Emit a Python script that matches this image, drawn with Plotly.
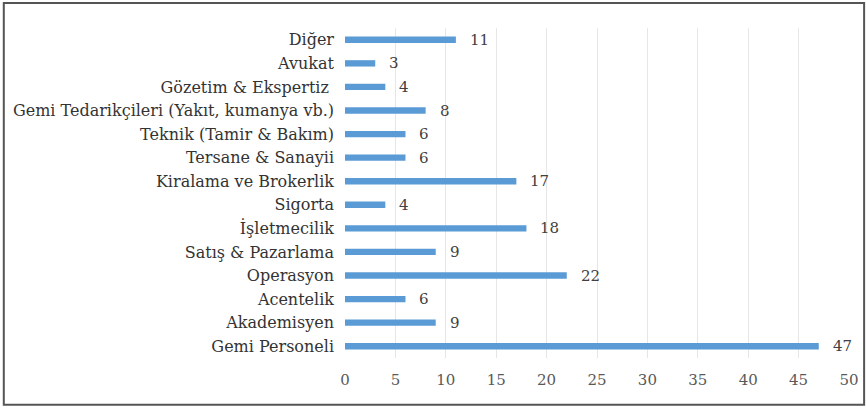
import plotly.graph_objects as go

categories = ["Gemi Personeli", "Akademisyen", "Acentelik", "Operasyon", "Satış & Pazarlama",
              "İşletmecilik", "Sigorta", "Kiralama ve Brokerlik", "Tersane & Sanayii",
              "Teknik (Tamir & Bakım)", "Gemi Tedarikçileri (Yakıt, kumanya vb.)",
              "Gözetim & Ekspertiz ", "Avukat", "Diğer"]
values = [47, 9, 6, 22, 9, 18, 4, 17, 6, 6, 8, 4, 3, 11]
tick_vals = [0, 5, 10, 15, 20, 25, 30, 35, 40, 45, 50]

FONT = "DejaVu Serif"

fig = go.Figure()
fig.add_trace(go.Bar(
    x=values, y=categories, orientation="h",
    marker=dict(color="#5B9BD5", line=dict(width=0)),
    width=0.27,
    hoverinfo="x+y",
))

for c, v in zip(categories, values):
    fig.add_annotation(x=v, y=c, text=str(v), showarrow=False, xanchor="left",
                       xshift=12, font=dict(family=FONT, size=15, color="#404040"))

fig.add_shape(type="rect", xref="paper", yref="paper",
              x0=-0.677, x1=1.03, y0=-0.142, y1=1.076,
              line=dict(color="#555555", width=2), fillcolor="rgba(0,0,0,0)")

fig.update_layout(
    width=866, height=408,
    margin=dict(l=345, r=17, t=28, b=50, autoexpand=False),
    paper_bgcolor="white", plot_bgcolor="white",
    showlegend=False,
    font=dict(family=FONT, size=15, color="#333333"),
    xaxis=dict(range=[0, 50], tickvals=tick_vals, showgrid=True, gridcolor="#E6E6E6",
               gridwidth=1, zeroline=False, showline=False, automargin=False,
               tickfont=dict(family=FONT, size=15, color="#595959"), ticks="", ticklen=0,
               ticklabelstandoff=11),
    yaxis=dict(categoryorder="array", categoryarray=categories, showgrid=False,
               showline=False, ticks="", automargin=False,
               tickfont=dict(family=FONT, size=16, color="#333333"),
               ticklabelstandoff=10),
)

fig.write_html("out.html", config={"displayModeBar": False},
               post_script="document.body.style.margin='0';")
